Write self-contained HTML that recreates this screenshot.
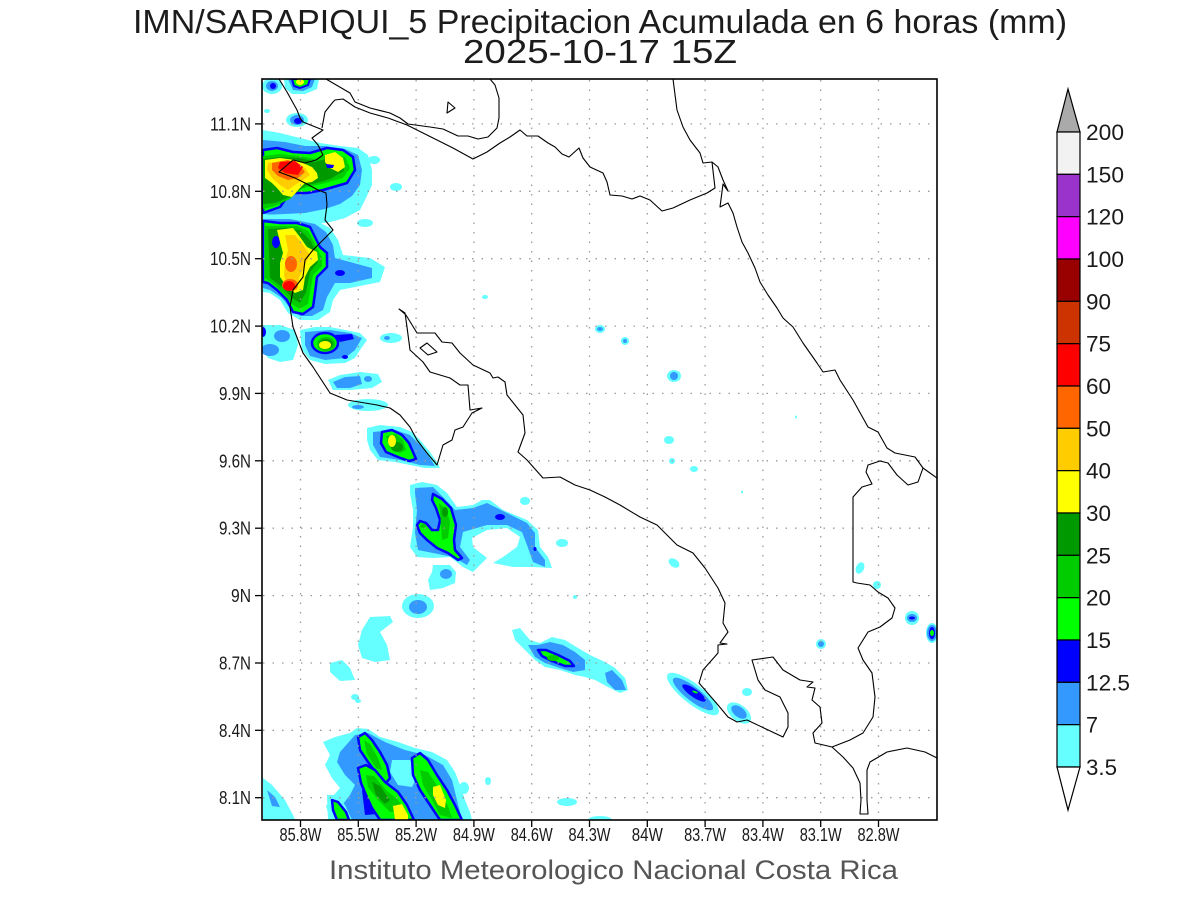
<!DOCTYPE html>
<html><head><meta charset="utf-8"><style>
html,body{margin:0;padding:0;background:#fff;}
svg{display:block;}
text{font-family:"Liberation Sans",sans-serif;}
</style></head><body>
<svg width="1200" height="900" viewBox="0 0 1200 900" xmlns="http://www.w3.org/2000/svg">
<rect x="0" y="0" width="1200" height="900" fill="#fff"/>
<defs><clipPath id="pc"><rect x="262" y="79" width="675" height="741"/></clipPath></defs>

<!-- Title -->
<text x="133" y="33" font-size="33" textLength="934" lengthAdjust="spacingAndGlyphs" fill="#1c1c1c">IMN/SARAPIQUI_5 Precipitacion Acumulada en 6 horas (mm)</text>
<text x="463" y="63" font-size="33" textLength="274" lengthAdjust="spacingAndGlyphs" fill="#1c1c1c">2025-10-17 15Z</text>

<g clip-path="url(#pc)" stroke-linejoin="round">
<!-- top small blobs -->
<ellipse cx="272" cy="86" rx="10" ry="8" fill="#66ffff"/>
<ellipse cx="272" cy="86" rx="6" ry="5" fill="#3399ff"/>
<ellipse cx="273" cy="86" rx="3" ry="3" fill="#0000ff"/>
<polygon points="284,79 319,79 317,89 305,94 292,94 285,88" fill="#66ffff"/>
<polygon points="288,79 315,79 312,87 303,91 293,90" fill="#3399ff"/>
<polygon points="292,79 310,79 308,85 300,88 294,86" fill="#00ff00" stroke="#0000ff" stroke-width="2"/>
<ellipse cx="300" cy="82" rx="4" ry="3" fill="#ffff00"/>
<ellipse cx="297" cy="120" rx="11" ry="7" fill="#66ffff"/>
<ellipse cx="297" cy="120" rx="7" ry="5" fill="#3399ff"/>
<ellipse cx="298" cy="121" rx="4" ry="3" fill="#0000ff"/>
<ellipse cx="267" cy="111" rx="3" ry="2" fill="#66ffff"/>
<ellipse cx="374" cy="160" rx="6" ry="4" fill="#66ffff"/>
<ellipse cx="396" cy="187" rx="6" ry="4" fill="#66ffff"/>
<ellipse cx="365" cy="223" rx="8" ry="4" fill="#66ffff"/>
<ellipse cx="363" cy="195" rx="3" ry="2" fill="#66ffff"/>

<!-- upper cell -->
<polygon points="263,130 280,133 300,138 320,143 340,146 358,148 368,155 372,170 372,185 366,198 360,210 345,218 330,222 310,225 290,225 275,222 263,220" fill="#66ffff"/>
<polygon points="263,140 285,142 305,146 325,146 345,149 358,155 362,170 360,185 352,196 340,204 325,209 305,213 285,214 263,215" fill="#3399ff"/>
<!-- lower cell -->
<polygon points="263,214 290,216 315,220 330,228 338,240 343,255 370,258 385,267 380,282 355,287 340,290 333,300 330,312 318,320 300,320 288,313 280,300 270,293 263,292" fill="#66ffff"/>
<polygon points="263,219 290,219 315,224 326,232 333,245 335,258 350,262 372,268 372,278 350,283 335,283 327,297 323,310 312,316 300,316 290,308 282,298 270,290 263,288" fill="#3399ff"/>
<ellipse cx="340" cy="273" rx="5" ry="3" fill="#0000ff"/>

<polygon points="263,150 277,148 293,152 310,153 327,148 343,150 353,157 355,170 347,183 323,190 307,193 290,193 280,207 263,213" fill="#00ff00" stroke="#0000ff" stroke-width="2.5"/>
<polygon points="263,156 280,154 300,156 315,159 330,154 345,157 350,168 343,178 325,183 300,189 290,199 275,206 263,209" fill="#00cc00"/>
<polygon points="263,159 280,157 300,158 315,162 330,158 342,162 344,171 330,179 305,186 292,196 275,203 263,204" fill="#009900"/>
<polygon points="265,160 280,158 295,160 303,163 312,167 317,173 318,178 312,182 305,183 300,188 292,197 283,195 277,188 272,183 265,178" fill="#ffff00"/>
<polygon points="325,155 335,152 343,158 345,167 338,172 330,168 325,162" fill="#ffff00"/>
<polygon points="326,164 334,165 333,168 327,168" fill="#0000ff"/>
<polygon points="268,163 282,161 295,163 305,168 310,175 303,180 295,185 288,190 280,185 272,178 267,170" fill="#ffcc00"/>
<polygon points="272,163 288,160 300,165 305,172 298,178 288,180 278,176 272,170" fill="#ff6600"/>
<polygon points="280,162 295,161 303,167 298,175 285,173 278,168" fill="#ff0000"/>

<polygon points="263,221 280,223 297,223 310,227 315,237 320,247 327,253 327,267 317,277 315,293 313,307 303,314 293,312 287,300 277,290 268,283 263,282" fill="#00ff00" stroke="#0000ff" stroke-width="2.5"/>
<polygon points="265,226 280,226 297,226 308,231 313,240 318,250 322,258 322,266 313,275 310,292 308,304 300,309 293,305 285,295 275,285 265,278" fill="#00cc00"/>
<polygon points="268,229 285,228 300,230 310,240 316,252 318,262 310,272 306,292 300,303 292,298 282,287 270,278" fill="#009900"/>
<ellipse cx="276" cy="242" rx="4" ry="6" fill="#0000ff"/>
<polygon points="277,230 293,228 300,237 307,247 317,252 318,260 310,267 305,277 303,290 295,293 287,287 280,277 280,263 283,253 280,242" fill="#ffff00"/>
<polygon points="285,235 295,235 303,245 310,255 305,265 299,278 297,290 289,289 284,276 285,262 288,250" fill="#ffcc00"/>
<ellipse cx="291" cy="264" rx="6" ry="8" fill="#ff6600"/>
<ellipse cx="290" cy="285" rx="8" ry="6" fill="#ff6600"/>
<ellipse cx="289" cy="286" rx="6" ry="5" fill="#ff0000"/>

<!-- blobs around 10.2N -->
<polygon points="262,325 280,325 295,330 298,345 293,360 280,362 268,358 262,350" fill="#66ffff"/>
<ellipse cx="282" cy="336" rx="8" ry="6" fill="#3399ff"/>
<ellipse cx="270" cy="350" rx="9" ry="6" fill="#3399ff"/>
<ellipse cx="263" cy="332" rx="3" ry="5" fill="#0000ff"/>
<polygon points="300,330 315,327 330,327 345,330 360,333 367,340 360,350 355,358 345,363 325,364 310,360 302,350" fill="#66ffff"/>
<polygon points="305,332 330,330 350,333 362,338 355,350 345,358 325,360 310,356 305,345" fill="#3399ff"/>
<polygon points="335,335 352,334 354,339 340,342" fill="#0000ff"/>
<ellipse cx="345" cy="357" rx="3" ry="2" fill="#0000ff"/>
<ellipse cx="325" cy="343" rx="13" ry="10" fill="#00ff00" stroke="#0000ff" stroke-width="2.5"/>
<ellipse cx="326" cy="344" rx="9" ry="7" fill="#00cc00"/>
<ellipse cx="326" cy="344" rx="7" ry="5" fill="#009900"/>
<ellipse cx="325" cy="345" rx="6" ry="4" fill="#ffff00"/>
<ellipse cx="391" cy="338" rx="11" ry="5" fill="#66ffff"/>
<ellipse cx="387" cy="338" rx="3" ry="2" fill="#3399ff"/>
<polygon points="328,380 340,375 360,372 378,374 382,382 372,388 350,390 333,390" fill="#66ffff"/>
<polygon points="333,382 345,377 360,376 362,384 350,388 337,388" fill="#3399ff"/>
<ellipse cx="368" cy="379" rx="4" ry="3" fill="#3399ff"/>
<ellipse cx="368" cy="405" rx="20" ry="6" fill="#66ffff"/>
<ellipse cx="358" cy="407" rx="6" ry="2" fill="#3399ff"/>
<ellipse cx="485" cy="297" rx="3" ry="2" fill="#66ffff"/>

<!-- G3 near 9.7N -->
<polygon points="367,428 380,425 400,427 412,432 420,440 430,452 437,462 440,468 425,468 410,465 395,462 378,460 370,450 367,440" fill="#66ffff"/>
<polygon points="373,432 395,430 410,435 420,445 430,458 435,466 420,465 400,460 380,457 373,445" fill="#3399ff"/>
<polygon points="382,432 392,430 402,435 409,443 413,452 416,459 409,461 398,457 386,452 381,443" fill="#00ff00" stroke="#0000ff" stroke-width="2.5"/>
<polygon points="386,436 396,434 403,440 406,450 400,453 390,448" fill="#00cc00"/>
<ellipse cx="397" cy="447" rx="6" ry="5" fill="#009900"/>
<ellipse cx="392" cy="441" rx="4" ry="6" fill="#ffff00"/>

<!-- Hook feature 9.3N -->
<polygon points="410,485 422,482 437,485 447,493 457,507 473,505 482,500 490,500 503,510 527,520 538,530 540,547 548,557 552,568 533,567 513,567 493,563 503,557 517,547 520,537 507,528 487,530 472,538 473,547 487,558 473,572 463,567 450,557 433,558 417,557 410,547 413,527 413,510 410,493" fill="#66ffff"/>
<polygon points="415,488 433,487 443,497 455,510 473,508 487,503 507,513 527,523 535,533 535,547 545,560 545,567 533,562 527,545 522,532 507,525 487,525 463,532 460,547 470,560 467,565 453,557 433,553 418,550 415,533 417,510 415,493" fill="#3399ff"/>
<polygon points="433,494 442,499 451,508 456,525 454,540 455,550 462,558 458,560 448,553 437,548 427,540 420,533 417,525 420,521 426,523 432,530 438,530 440,520 436,508 432,500" fill="#00ff00" stroke="#0000ff" stroke-width="2.5"/>
<polygon points="439,503 446,509 450,522 448,538 442,540 441,525 440,512" fill="#00cc00"/>
<ellipse cx="445" cy="512" rx="3" ry="5" fill="#009900"/>
<ellipse cx="423" cy="526" rx="3" ry="2" fill="#00cc00"/>
<ellipse cx="500" cy="517" rx="5" ry="3" fill="#0000ff"/>
<ellipse cx="535" cy="549" rx="1.5" ry="2" fill="#0000ff"/>
<ellipse cx="525" cy="501" rx="5" ry="4" fill="#66ffff"/>
<ellipse cx="562" cy="543" rx="6" ry="4" fill="#66ffff"/>
<polygon points="433,565 450,565 456,572 455,583 443,588 430,590 428,580 432,572" fill="#66ffff"/>
<ellipse cx="446" cy="574" rx="6" ry="5" fill="#3399ff"/>
<ellipse cx="418" cy="606" rx="16" ry="12" fill="#66ffff"/>
<ellipse cx="418" cy="607" rx="9" ry="7" fill="#3399ff"/>
<polygon points="370,617 390,616 393,622 380,632 387,645 390,660 375,662 362,658 358,645 362,630" fill="#66ffff"/>
<polygon points="330,663 342,660 350,668 355,680 340,681 330,672" fill="#66ffff"/>
<ellipse cx="355" cy="697" rx="4" ry="3" fill="#66ffff"/>
<ellipse cx="575" cy="597" rx="2" ry="2" fill="#66ffff"/>

<!-- lower-right blob 8.75N -->
<polygon points="512,630 520,628 530,640 540,643 552,637 565,640 578,648 590,655 605,662 615,668 625,678 628,690 620,693 608,687 595,680 585,677 575,675 560,670 545,667 535,660 525,650 515,640" fill="#66ffff"/>
<polygon points="528,645 538,645 550,642 563,645 575,652 585,660 585,670 573,672 560,668 545,663 535,657" fill="#3399ff"/>
<polygon points="605,673 612,670 622,680 626,690 615,690 607,682" fill="#3399ff"/>
<polygon points="538,650 546,650 558,655 570,661 574,666 565,666 552,661 542,656" fill="#00ff00" stroke="#0000ff" stroke-width="2.5"/>
<ellipse cx="553" cy="658" rx="6" ry="3" fill="#00cc00"/>

<!-- small blobs central / east -->
<ellipse cx="600" cy="329" rx="5" ry="4" fill="#66ffff"/>
<ellipse cx="600" cy="329" rx="3" ry="2" fill="#3399ff"/>
<ellipse cx="625" cy="341" rx="4" ry="4" fill="#66ffff"/>
<ellipse cx="625" cy="341" rx="2" ry="2" fill="#3399ff"/>
<ellipse cx="674" cy="376" rx="7" ry="6" fill="#66ffff"/>
<ellipse cx="674" cy="376" rx="4" ry="4" fill="#3399ff"/>
<ellipse cx="669" cy="440" rx="5" ry="4" fill="#66ffff"/>
<ellipse cx="672" cy="461" rx="3" ry="3" fill="#66ffff"/>
<ellipse cx="694" cy="469" rx="4" ry="3" fill="#66ffff"/>
<ellipse cx="742" cy="492" rx="1" ry="1.5" fill="#66ffff"/>
<ellipse cx="796" cy="417" rx="1" ry="1.5" fill="#66ffff"/>
<ellipse cx="674" cy="563" rx="6" ry="4" transform="rotate(35 674 563)" fill="#66ffff"/>
<ellipse cx="860" cy="568" rx="4" ry="6" transform="rotate(25 860 568)" fill="#66ffff"/>
<ellipse cx="877" cy="585" rx="4" ry="4" fill="#66ffff"/>
<ellipse cx="912" cy="618" rx="7" ry="7" fill="#66ffff"/>
<ellipse cx="912" cy="618" rx="5" ry="4" fill="#3399ff"/>
<ellipse cx="912" cy="618" rx="3" ry="1.5" fill="#0000ff"/>
<ellipse cx="932" cy="633" rx="6" ry="10" fill="#66ffff"/>
<ellipse cx="932" cy="633" rx="5" ry="8" fill="#3399ff"/>
<ellipse cx="932" cy="633" rx="3" ry="6" fill="#0000ff"/>
<ellipse cx="932" cy="633" rx="2" ry="3" fill="#00ff00"/>
<ellipse cx="821" cy="644" rx="5" ry="5" fill="#66ffff"/>
<ellipse cx="821" cy="644" rx="3" ry="3" fill="#3399ff"/>
<!-- Osa -->
<ellipse cx="693" cy="694" rx="32" ry="10" transform="rotate(38 693 694)" fill="#66ffff"/>
<ellipse cx="693" cy="694" rx="25" ry="7" transform="rotate(38 693 694)" fill="#3399ff"/>
<ellipse cx="694" cy="693" rx="14" ry="4" transform="rotate(35 694 693)" fill="#0000ff"/>
<ellipse cx="695" cy="692" rx="3" ry="1" transform="rotate(20 695 692)" fill="#00ff00"/>
<ellipse cx="747" cy="692" rx="5" ry="4" fill="#66ffff"/>
<ellipse cx="739" cy="713" rx="14" ry="8" transform="rotate(38 739 713)" fill="#66ffff"/>
<ellipse cx="739" cy="712" rx="9" ry="5" transform="rotate(38 739 712)" fill="#3399ff"/>
<ellipse cx="567" cy="802" rx="10" ry="4" fill="#66ffff"/>
<ellipse cx="600" cy="820" rx="12" ry="4" fill="#66ffff"/>

<!-- Bottom-left big blob -->
<polygon points="263,778 272,785 285,800 293,815 295,820 263,820" fill="#66ffff"/>
<polygon points="267,790 275,797 280,807 272,806" fill="#3399ff"/>
<polygon points="323,742 335,737 350,733 357,728 368,729 380,737 398,742 415,748 432,752 447,760 455,772 460,785 465,800 470,812 472,820 330,820 326,806 333,796 340,788 332,778 325,765 330,755" fill="#66ffff"/>
<polygon points="340,752 355,735 368,733 385,742 405,750 425,755 443,765 452,780 457,800 462,820 345,820 340,808 350,795 355,785 345,775 337,762" fill="#3399ff"/>
<polygon points="392,760 410,760 418,775 412,787 398,785 390,772" fill="#66ffff"/>
<polygon points="362,790 387,792 390,813 365,815" fill="#0000ff"/>
<polygon points="358,737 365,733 372,740 380,752 387,765 390,778 386,783 378,775 368,762 360,750" fill="#00ff00" stroke="#0000ff" stroke-width="2.5"/>
<polygon points="364,740 370,744 378,758 382,770 376,768 367,754" fill="#00cc00"/>
<polygon points="358,768 366,765 375,770 385,782 398,792 407,805 414,820 380,820 372,808 366,795 361,783" fill="#00ff00" stroke="#0000ff" stroke-width="2.5"/>
<polygon points="366,775 374,776 386,790 398,800 406,812 390,812 378,800 368,787" fill="#00cc00"/>
<polygon points="372,782 380,786 390,800 385,804 376,795" fill="#009900"/>
<polygon points="393,806 402,804 408,815 408,820 395,820" fill="#ffff00"/>
<polygon points="412,758 420,753 428,760 437,775 447,790 455,805 462,820 440,820 430,805 420,790 413,775" fill="#00ff00" stroke="#0000ff" stroke-width="2.5"/>
<polygon points="420,770 428,772 440,790 448,806 452,818 440,815 432,800 423,785" fill="#00cc00"/>
<polygon points="433,787 440,785 446,800 445,808 438,805 433,795" fill="#ffff00"/>
<polygon points="327,795 335,795 345,805 352,820 328,820" fill="#66ffff"/>
<polygon points="332,800 338,802 346,812 349,820 337,820 333,810" fill="#00ff00" stroke="#0000ff" stroke-width="2.5"/>
<ellipse cx="464" cy="788" rx="5" ry="6" fill="#66ffff"/>
<ellipse cx="488" cy="781" rx="3" ry="4" fill="#66ffff"/>
<ellipse cx="358" cy="701" rx="3" ry="2" fill="#66ffff"/>
</g>

<!-- Grid (dotted) -->
<g stroke="#9a9a9a" stroke-width="1.3" stroke-dasharray="1.5 8" fill="none">
<line x1="300.5" y1="80" x2="300.5" y2="820"/>
<line x1="358.3" y1="80" x2="358.3" y2="820"/>
<line x1="416.1" y1="80" x2="416.1" y2="820"/>
<line x1="473.9" y1="80" x2="473.9" y2="820"/>
<line x1="531.7" y1="80" x2="531.7" y2="820"/>
<line x1="589.5" y1="80" x2="589.5" y2="820"/>
<line x1="647.3" y1="80" x2="647.3" y2="820"/>
<line x1="705.1" y1="80" x2="705.1" y2="820"/>
<line x1="762.9" y1="80" x2="762.9" y2="820"/>
<line x1="820.7" y1="80" x2="820.7" y2="820"/>
<line x1="878.5" y1="80" x2="878.5" y2="820"/>
<line x1="263" y1="123.9" x2="937" y2="123.9"/>
<line x1="263" y1="191.3" x2="937" y2="191.3"/>
<line x1="263" y1="258.7" x2="937" y2="258.7"/>
<line x1="263" y1="326.1" x2="937" y2="326.1"/>
<line x1="263" y1="393.4" x2="937" y2="393.4"/>
<line x1="263" y1="460.8" x2="937" y2="460.8"/>
<line x1="263" y1="528.2" x2="937" y2="528.2"/>
<line x1="263" y1="595.6" x2="937" y2="595.6"/>
<line x1="263" y1="663.0" x2="937" y2="663.0"/>
<line x1="263" y1="730.3" x2="937" y2="730.3"/>
<line x1="263" y1="797.7" x2="937" y2="797.7"/>
</g>

<!-- Coastlines / borders -->
<g clip-path="url(#pc)" fill="none" stroke="#000" stroke-width="1.1" stroke-linejoin="round">
<polyline points="279,79 287,92 297,110 300,118 303,122 313,126 323,130 312,138 318,145 323,155 316,160 305,163 293,160 279,172 295,178 305,183 318,190 326,193 327,205 325,220 333,230 313,250 305,260 303,277 293,290 290,307 293,327 303,353 313,367 330,393 347,400 377,405 390,408 400,415 410,427 417,440 427,453 437,465 443,445 452,440 455,430 463,427 472,413 482,408 470,410 468,385 460,385 450,378 430,372 423,362 410,350 407,327 405,313 399,309 406,315 417,333 435,333 442,342 452,343 460,353 473,365 490,373 493,378 498,377 505,382 507,395 523,415 525,433 518,452 527,460 543,478 560,477 575,485 590,490 605,497 620,505 640,517 657,525 677,545 693,553 705,568 718,588 725,603 723,623 728,632 720,643 727,644 718,645 718,653 703,670 699,683 718,705 728,717 737,722 747,720 783,737 788,727 788,713 780,697 765,690 758,680 752,660 773,657 783,670 800,680 813,682 807,687 815,688 812,700 820,707 822,723 813,733 815,743 832,747 843,757 853,768 860,783 861,800 860,814 868,814 867,800 867,770 870,762 887,752 907,748 925,752 937,758"/>
<polyline points="322,128 325,112 333,102 335,100 343,99 355,107 370,113 388,118 407,125 433,138 453,148 473,159 487,152 500,143 510,137 520,130 527,136 538,136 548,143 555,147 562,154 569,157 579,148 583,158 590,167 603,173 607,182 610,195 622,196 632,199 640,196 650,200 662,211 673,208 690,200 707,193 715,188 712,162"/>
<polyline points="326,79 350,93 355,102 370,108 390,113 400,118 408,124 430,127 443,129 458,136 468,136 478,139 488,137 497,128 499,118 499,98 495,85 490,79"/>
<polyline points="673,79 677,110 683,127 690,140 700,153 703,163 712,162 718,167 723,180 728,191 723,184 720,207 728,203 733,213 737,227 742,242 748,253 755,268 760,282 768,295 777,308 783,318 793,327 803,343 817,363 823,372 835,370 840,380 853,400 868,427 878,432 887,448 895,453 915,457 923,468 937,478"/>
<polyline points="923,468 918,482 908,485 897,475 888,463 880,461 868,465 866,472 872,484 862,487 853,497 853,582 857,583 870,585 878,592 888,598 895,608 892,618 880,627 868,632 858,648 863,660 872,673 875,697 873,717 863,733 850,740 832,747"/>
<polygon points="448,102 455,108 447,113"/>
<polygon points="420,348 427,343 437,352 428,355"/>
</g>

<!-- Plot frame and ticks -->
<rect x="262" y="79" width="675" height="741" fill="none" stroke="#000" stroke-width="1.6"/>
<g stroke="#000" stroke-width="1.3">
<line x1="255" y1="123.9" x2="262" y2="123.9"/><line x1="255" y1="191.3" x2="262" y2="191.3"/>
<line x1="255" y1="258.7" x2="262" y2="258.7"/><line x1="255" y1="326.1" x2="262" y2="326.1"/>
<line x1="255" y1="393.4" x2="262" y2="393.4"/><line x1="255" y1="460.8" x2="262" y2="460.8"/>
<line x1="255" y1="528.2" x2="262" y2="528.2"/><line x1="255" y1="595.6" x2="262" y2="595.6"/>
<line x1="255" y1="663.0" x2="262" y2="663.0"/><line x1="255" y1="730.3" x2="262" y2="730.3"/>
<line x1="255" y1="797.7" x2="262" y2="797.7"/>
<line x1="300.5" y1="820" x2="300.5" y2="827"/><line x1="358.3" y1="820" x2="358.3" y2="827"/>
<line x1="416.1" y1="820" x2="416.1" y2="827"/><line x1="473.9" y1="820" x2="473.9" y2="827"/>
<line x1="531.7" y1="820" x2="531.7" y2="827"/><line x1="589.5" y1="820" x2="589.5" y2="827"/>
<line x1="647.3" y1="820" x2="647.3" y2="827"/><line x1="705.1" y1="820" x2="705.1" y2="827"/>
<line x1="762.9" y1="820" x2="762.9" y2="827"/><line x1="820.7" y1="820" x2="820.7" y2="827"/>
<line x1="878.5" y1="820" x2="878.5" y2="827"/>
</g>

<!-- Latitude labels -->
<g font-size="18" fill="#1a1a1a" text-anchor="end">
<text x="251" y="130.5" textLength="41" lengthAdjust="spacingAndGlyphs">11.1N</text>
<text x="251" y="197.8" textLength="41" lengthAdjust="spacingAndGlyphs">10.8N</text>
<text x="251" y="265.2" textLength="41" lengthAdjust="spacingAndGlyphs">10.5N</text>
<text x="251" y="332.6" textLength="41" lengthAdjust="spacingAndGlyphs">10.2N</text>
<text x="251" y="399.9" textLength="32" lengthAdjust="spacingAndGlyphs">9.9N</text>
<text x="251" y="467.3" textLength="32" lengthAdjust="spacingAndGlyphs">9.6N</text>
<text x="251" y="534.7" textLength="32" lengthAdjust="spacingAndGlyphs">9.3N</text>
<text x="251" y="602.1" textLength="20" lengthAdjust="spacingAndGlyphs">9N</text>
<text x="251" y="669.5" textLength="32" lengthAdjust="spacingAndGlyphs">8.7N</text>
<text x="251" y="736.8" textLength="32" lengthAdjust="spacingAndGlyphs">8.4N</text>
<text x="251" y="804.2" textLength="32" lengthAdjust="spacingAndGlyphs">8.1N</text>
</g>
<!-- Longitude labels -->
<g font-size="18" fill="#1a1a1a" text-anchor="middle">
<text x="300.5" y="841" textLength="42" lengthAdjust="spacingAndGlyphs">85.8W</text>
<text x="358.3" y="841" textLength="42" lengthAdjust="spacingAndGlyphs">85.5W</text>
<text x="416.1" y="841" textLength="42" lengthAdjust="spacingAndGlyphs">85.2W</text>
<text x="473.9" y="841" textLength="42" lengthAdjust="spacingAndGlyphs">84.9W</text>
<text x="531.7" y="841" textLength="42" lengthAdjust="spacingAndGlyphs">84.6W</text>
<text x="589.5" y="841" textLength="42" lengthAdjust="spacingAndGlyphs">84.3W</text>
<text x="647.3" y="841" textLength="31" lengthAdjust="spacingAndGlyphs">84W</text>
<text x="705.1" y="841" textLength="42" lengthAdjust="spacingAndGlyphs">83.7W</text>
<text x="762.9" y="841" textLength="42" lengthAdjust="spacingAndGlyphs">83.4W</text>
<text x="820.7" y="841" textLength="42" lengthAdjust="spacingAndGlyphs">83.1W</text>
<text x="878.5" y="841" textLength="42" lengthAdjust="spacingAndGlyphs">82.8W</text>
</g>

<!-- Footer -->
<text x="329" y="879" font-size="27" fill="#555" textLength="569" lengthAdjust="spacingAndGlyphs">Instituto Meteorologico Nacional Costa Rica</text>

<!-- Colorbar -->
<g stroke="#000" stroke-width="1.2">
<polygon points="1068,89 1057,132 1080,132" fill="#aaaaaa"/>
<rect x="1057" y="132" width="23" height="42.33" fill="#f2f2f2"/>
<rect x="1057" y="174.33" width="23" height="42.33" fill="#9933cc"/>
<rect x="1057" y="216.67" width="23" height="42.33" fill="#ff00ff"/>
<rect x="1057" y="259" width="23" height="42.33" fill="#990000"/>
<rect x="1057" y="301.33" width="23" height="42.33" fill="#cc3300"/>
<rect x="1057" y="343.67" width="23" height="42.33" fill="#ff0000"/>
<rect x="1057" y="386" width="23" height="42.33" fill="#ff6600"/>
<rect x="1057" y="428.33" width="23" height="42.33" fill="#ffcc00"/>
<rect x="1057" y="470.67" width="23" height="42.33" fill="#ffff00"/>
<rect x="1057" y="513" width="23" height="42.33" fill="#009900"/>
<rect x="1057" y="555.33" width="23" height="42.33" fill="#00cc00"/>
<rect x="1057" y="597.67" width="23" height="42.33" fill="#00ff00"/>
<rect x="1057" y="640" width="23" height="42.33" fill="#0000ff"/>
<rect x="1057" y="682.33" width="23" height="42.33" fill="#3399ff"/>
<rect x="1057" y="724.67" width="23" height="42.33" fill="#66ffff"/>
<polygon points="1057,767 1080,767 1068,810" fill="#ffffff"/>
</g>
<g font-size="22" fill="#1a1a1a">
<text x="1086" y="140" textLength="38" lengthAdjust="spacingAndGlyphs">200</text>
<text x="1086" y="182.3" textLength="38" lengthAdjust="spacingAndGlyphs">150</text>
<text x="1086" y="224.7" textLength="38" lengthAdjust="spacingAndGlyphs">120</text>
<text x="1086" y="267" textLength="38" lengthAdjust="spacingAndGlyphs">100</text>
<text x="1086" y="309.3" textLength="25" lengthAdjust="spacingAndGlyphs">90</text>
<text x="1086" y="351.7" textLength="25" lengthAdjust="spacingAndGlyphs">75</text>
<text x="1086" y="394" textLength="25" lengthAdjust="spacingAndGlyphs">60</text>
<text x="1086" y="436.3" textLength="25" lengthAdjust="spacingAndGlyphs">50</text>
<text x="1086" y="478.7" textLength="25" lengthAdjust="spacingAndGlyphs">40</text>
<text x="1086" y="521" textLength="25" lengthAdjust="spacingAndGlyphs">30</text>
<text x="1086" y="563.3" textLength="25" lengthAdjust="spacingAndGlyphs">25</text>
<text x="1086" y="605.7" textLength="25" lengthAdjust="spacingAndGlyphs">20</text>
<text x="1086" y="648" textLength="25" lengthAdjust="spacingAndGlyphs">15</text>
<text x="1086" y="690.3" textLength="44" lengthAdjust="spacingAndGlyphs">12.5</text>
<text x="1086" y="732.7" textLength="12" lengthAdjust="spacingAndGlyphs">7</text>
<text x="1086" y="775" textLength="31" lengthAdjust="spacingAndGlyphs">3.5</text>
</g>
</svg>
</body></html>
